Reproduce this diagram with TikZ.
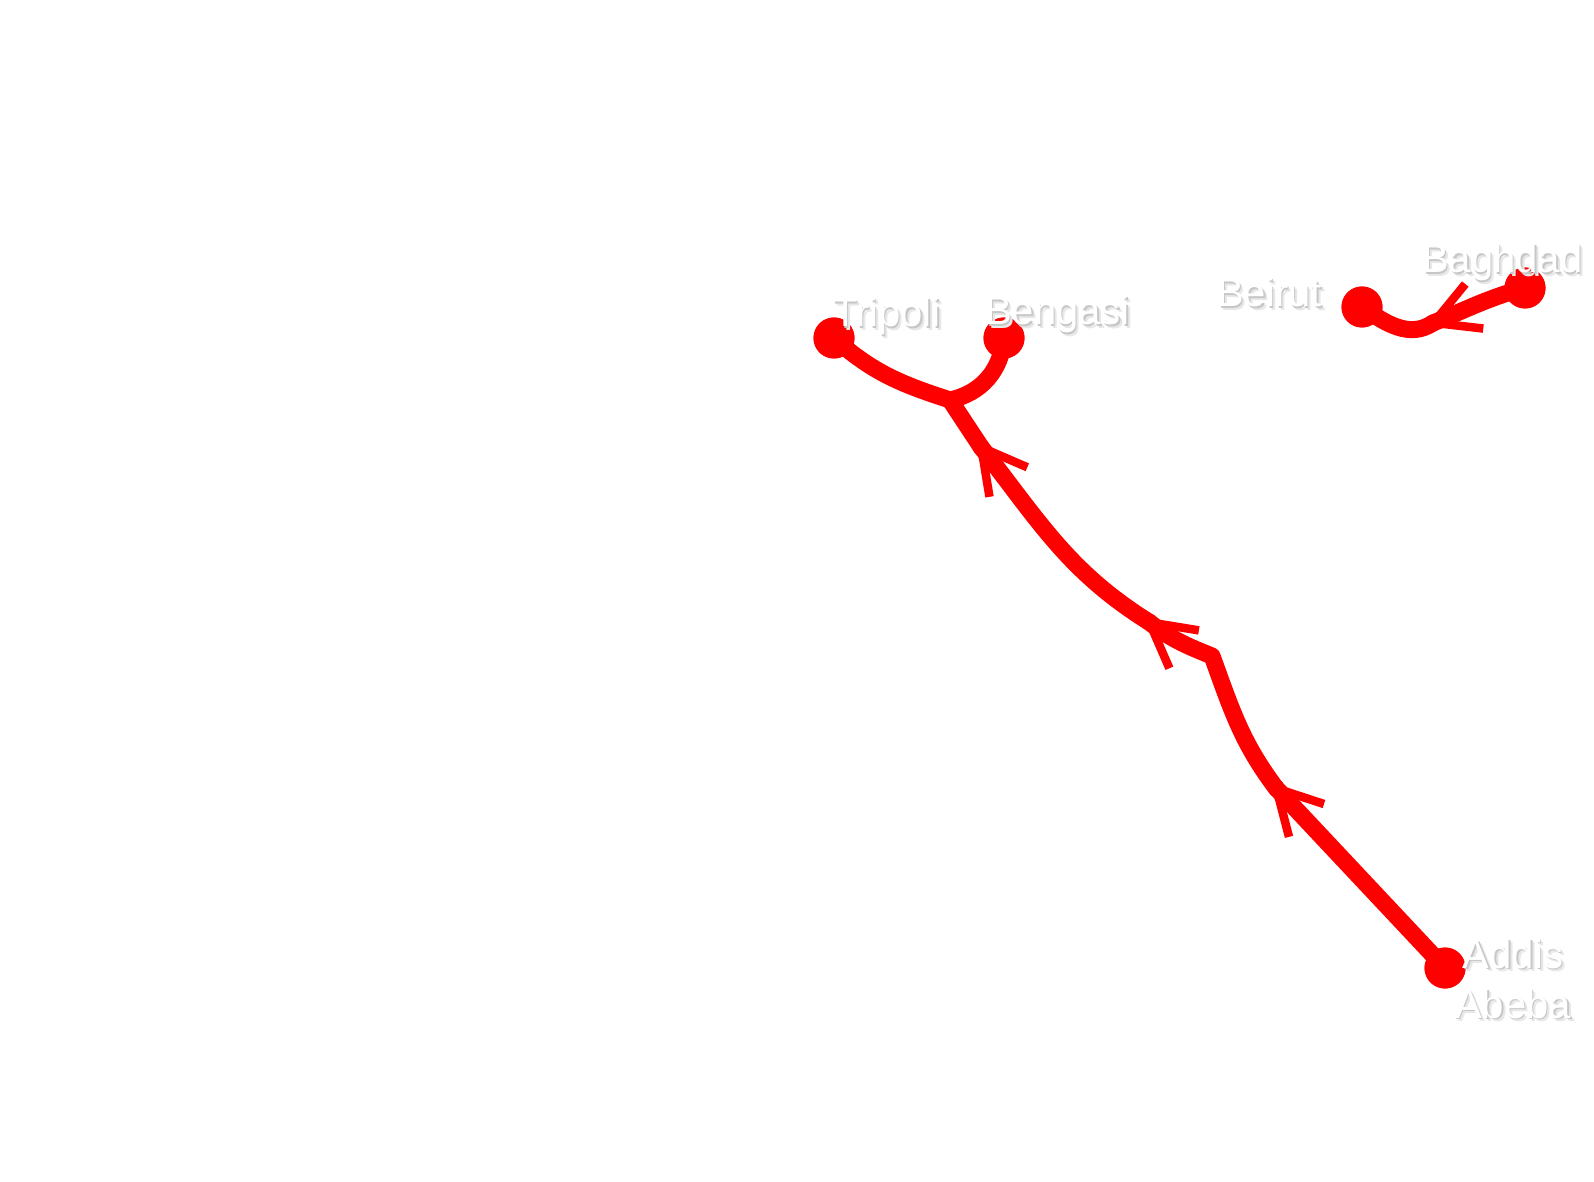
\documentclass[tikz,border=0pt]{standalone}
\usepackage{fontspec}
\setmainfont{Liberation Sans}
\usetikzlibrary{decorations.markings}
\newcommand\shoff[3]{\rlap{\hspace*{#1pt}\raisebox{#2pt}{#3}}}
\newcommand\shadowed[1]{\leavevmode{\color{black!9}\shoff{3.5}{-3.5}{#1}}{\color{black!22}\shoff{1.5}{-1.5}{#1}}{\color{white}#1}}
\tikzset{
  route/.style={draw=red, line width=17pt, line cap=round, line join=round},
  chev/.style={postaction={decorate}, decoration={markings, mark=at position -0.5pt with {\draw[red, line width=8.5pt, line cap=butt, line join=miter] (-44,24) -- (0,0) -- (-44,-24);}}},
  city/.style={circle, fill=red, minimum size=41pt, inner sep=0pt},
  lbl/.style={inner sep=0pt, font=\fontsize{40}{50}\selectfont},
}
\begin{document}
\begin{tikzpicture}[x=1pt,y=1pt]
\fill[white] (0,0) rectangle (1594,1181);
\useasboundingbox (0,0) rectangle (1594,1181);
% places
\coordinate (p1) at (1276,393);
\coordinate (c1) at (1212,525);
\coordinate (p2) at (1149,559);
\coordinate (p3) at (981,734);
\coordinate (j) at (950,781);
\coordinate (tip) at (1433,858);
\node[city] (addis) at (1445,213) {};
\node[city] (trip) at (834,843) {};
\node[city] (beng) at (1004,843) {};
\node[city] (beirut) at (1362,874) {};
\node[city] (baghdad) at (1525,893) {};
% routes
\draw[route, chev] (addis.center) -- (p1);
\draw[route, chev] (p1) to[out=127,in=-70] (c1) to[out=158,in=-38] (p2);
\draw[route, chev] (p2) to[out=148,in=-52] (p3);
\draw[route] (p3) -- (j);
\draw[route] (j) to[out=162,in=-42] (trip.center);
\draw[route] (j) to[out=12,in=-95] (beng.center);
\draw[route, chev] (baghdad.center) to[out=195,in=22] (tip);
\draw[route] (tip) to[out=214,in=-35] (beirut.center);
% dots on top
\fill[red] (addis) circle (20.5);
\fill[red] (trip) circle (20.5);
\fill[red] (beng) circle (20.5);
\fill[red] (beirut) circle (20.5);
\fill[red] (baghdad) circle (20.5);
% labels
\node[lbl, anchor=base west] (ltrip) at (833,854) {\shadowed{Tripoli}};
\node[lbl, anchor=base west] (lbeng) at (985,856) {\shadowed{Bengasi}};
\node[lbl, anchor=base west] (lbeirut) at (1217,874) {\shadowed{Beirut}};
\node[lbl, anchor=base west] (lbaghdad) at (1422,908) {\shadowed{Baghdad}};
\node[lbl, anchor=base, align=center] (laddis) at (1513,163) {\shadowed{Addis}\\\shadowed{Abeba}};
\end{tikzpicture}
\end{document}
